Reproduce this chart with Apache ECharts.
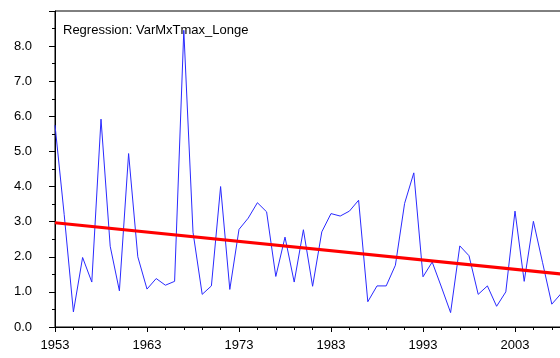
<!DOCTYPE html>
<html>
<head>
<meta charset="utf-8">
<script src="https://cdn.jsdelivr.net/npm/echarts@6/dist/echarts.min.js"></script>
<style>
  html, body { margin: 0; padding: 0; background: #ffffff; }
  #chart { width: 560px; height: 358px; }
</style>
</head>
<body>
<div id="chart"></div>
<script>
// Yearly series (1953-2008)
const years = [
  1953, 1954, 1955, 1956, 1957, 1958, 1959, 1960, 1961, 1962,
  1963, 1964, 1965, 1966, 1967, 1968, 1969, 1970, 1971, 1972,
  1973, 1974, 1975, 1976, 1977, 1978, 1979, 1980, 1981, 1982,
  1983, 1984, 1985, 1986, 1987, 1988, 1989, 1990, 1991, 1992,
  1993, 1994, 1995, 1996, 1997, 1998, 1999, 2000, 2001, 2002,
  2003, 2004, 2005, 2006, 2007, 2008
];
const values = [
  5.75, 3.2, 0.43, 1.98, 1.28, 5.92, 2.3, 1.03, 4.94, 2.0,
  1.08, 1.38, 1.19, 1.3, 8.45, 2.7, 0.93, 1.17, 4.0, 1.07,
  2.78, 3.1, 3.54, 3.28, 1.44, 2.56, 1.28, 2.77, 1.16, 2.71,
  3.23, 3.16, 3.3, 3.61, 0.72, 1.17, 1.17, 1.76, 3.52, 4.39,
  1.43, 1.85, 1.14, 0.41, 2.31, 2.03, 0.93, 1.17, 0.59, 1.0,
  3.3, 1.3, 3.01, 1.83, 0.65, 0.95
];
// Fitted regression line end points
const regYears = [1953, 2008];
const regValues = [2.97, 1.51];

const titleText = 'Regression: VarMxTmax_Longe';
const font = 'Liberation Sans, Arial, sans-serif';

const chart = echarts.init(document.getElementById('chart'), null, { renderer: 'canvas' });

// The plot area runs past the right edge of the window, so the last years are cut off.
chart.setOption({
  animation: false,
  backgroundColor: '#ffffff',
  title: {
    text: titleText,
    left: 63,
    top: 24,
    padding: 0,
    textStyle: { fontFamily: font, fontSize: 13, fontWeight: 'normal', color: '#000000' }
  },
  grid: {
    left: 55,
    top: 11,
    width: 552,
    height: 316,
    outerBoundsMode: 'none',
    containLabel: false,
    show: true,
    borderColor: '#000000',
    borderWidth: 1,
    backgroundColor: 'transparent'
  },
  xAxis: {
    type: 'value',
    min: 1953,
    max: 2013,
    interval: 10,
    axisLine: { show: true, onZero: false, lineStyle: { color: '#000000', width: 1 } },
    axisTick: { show: true, length: 5, lineStyle: { color: '#000000' } },
    minorTick: { show: true, splitNumber: 5, length: 3, lineStyle: { color: '#000000' } },
    splitLine: { show: false },
    axisLabel: {
      margin: 12,
      fontFamily: font,
      fontSize: 13,
      color: '#000000',
      formatter: v => String(Math.round(v))
    }
  },
  yAxis: {
    type: 'value',
    min: 0,
    max: 9,
    interval: 1,
    axisLine: { show: true, lineStyle: { color: '#000000', width: 1 } },
    axisTick: { show: true, length: 6, lineStyle: { color: '#000000' } },
    minorTick: { show: true, splitNumber: 2, length: 3, lineStyle: { color: '#000000' } },
    splitLine: { show: false },
    axisLabel: {
      margin: 23,
      fontFamily: font,
      fontSize: 13,
      color: '#000000',
      showMaxLabel: false,
      formatter: v => v.toFixed(1)
    }
  },
  series: [
    {
      name: 'VarMxTmax_Longe',
      type: 'line',
      data: years.map((y, i) => [y, values[i]]),
      showSymbol: false,
      symbol: 'none',
      clip: true,
      lineStyle: { color: '#2a2aff', width: 1 },
      z: 2
    },
    {
      name: 'Regression',
      type: 'line',
      data: regYears.map((y, i) => [y, regValues[i]]),
      showSymbol: false,
      symbol: 'none',
      clip: true,
      lineStyle: { color: '#ff0000', width: 3 },
      z: 3
    }
  ]
});
</script>
</body>
</html>
